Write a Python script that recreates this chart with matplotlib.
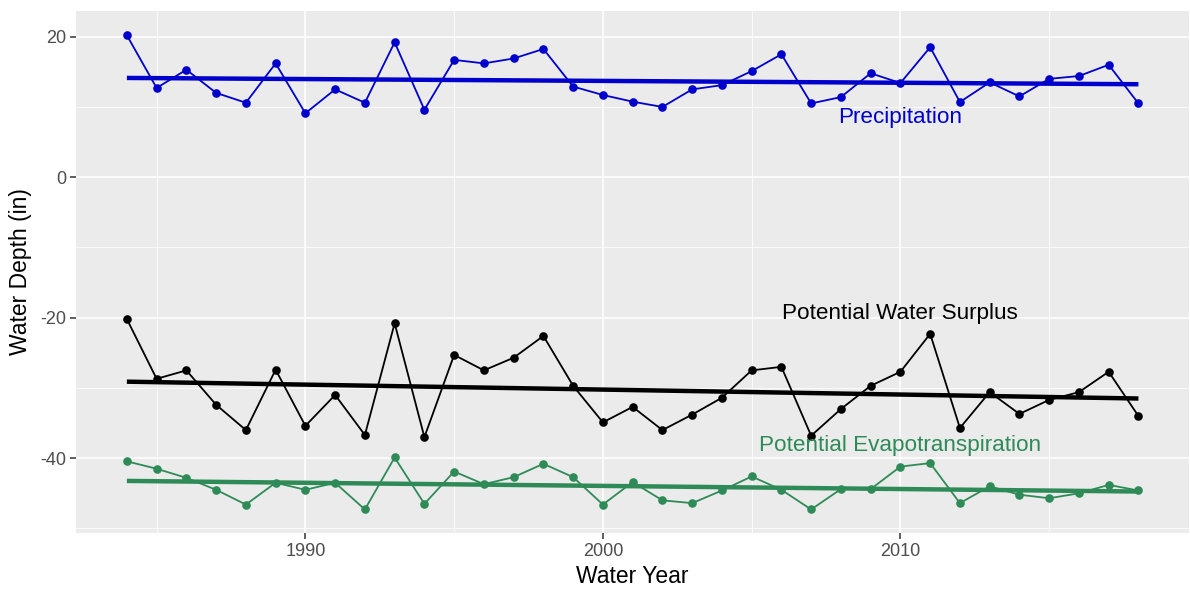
import numpy as np
import matplotlib
matplotlib.use("Agg")
import matplotlib.pyplot as plt

plt.rcParams['font.family'] = ['Liberation Sans', 'DejaVu Sans']
plt.rcParams['axes.unicode_minus'] = False

years = list(range(1984, 2019))
precipitation = [20.2, 12.7, 15.3, 12.0, 10.6, 16.2, 9.1, 12.5, 10.6, 19.2, 9.6, 16.7,
                 16.2, 16.9, 18.25, 12.9, 11.7, 10.75, 10.0, 12.5, 13.1, 15.1, 17.5, 10.5,
                 11.4, 14.8, 13.4, 18.5, 10.7, 13.5, 11.5, 14.0, 14.4, 16.0, 10.5]
surplus = [-20.2, -28.7, -27.5, -32.4, -36.0, -27.4, -35.4, -31.0, -36.7, -20.8, -37.0, -25.3,
           -27.5, -25.7, -22.6, -29.7, -34.9, -32.7, -36.0, -33.8, -31.4, -27.5, -27.0, -36.8,
           -33.0, -29.7, -27.7, -22.3, -35.7, -30.6, -33.7, -31.7, -30.6, -27.7, -34.0]
pet = [-40.45, -41.5, -42.8, -44.5, -46.6, -43.5, -44.5, -43.5, -47.3, -39.9, -46.5, -41.9,
       -43.7, -42.7, -40.8, -42.7, -46.6, -43.4, -46.0, -46.4, -44.6, -42.6, -44.5, -47.3,
       -44.4, -44.4, -41.2, -40.7, -46.4, -44.0, -45.2, -45.7, -45.0, -43.8, -44.6]

series_names = ["Precipitation", "Potential Water Surplus", "Potential Evapotranspiration"]
series_colors = ["#0000CD", "#000000", "#2E8B57"]
label_x = [2010, 2010, 2010]
label_y = [7.7, -20.2, -39.0]

W, H = 1190, 589
fig = plt.figure(figsize=(W / 100, H / 100), dpi=100)
left, right, top, bottom = 76.3, 1189, 10.7, 533
ax = fig.add_axes([left / W, (H - bottom) / H, (right - left) / W, (bottom - top) / H])
ax.set_facecolor("#EBEBEB")
for s in ax.spines.values():
    s.set_visible(False)

x = np.array(years, dtype=float)
for vals, col in zip([precipitation, surplus, pet], series_colors):
    v = np.array(vals)
    ax.plot(x, v, color=col, lw=1.3, zorder=3)
    coef = np.polyfit(x, v, 1)
    ax.plot([x[0], x[-1]], np.polyval(coef, [x[0], x[-1]]), color=col, lw=3.2, zorder=4,
            solid_capstyle='butt')
    ax.plot(x, v, 'o', color=col, ms=6.2, mec='none', zorder=5)

for name, col, lx, ly in zip(series_names, series_colors, label_x, label_y):
    ax.text(lx, ly, name, color=col, fontsize=16.2, ha='center', va='baseline', zorder=6)

xmin, xmax = 1984 - 0.05 * 34, 2018 + 0.05 * 34
ymin, ymax = -50.65, 23.7
ax.set_xlim(xmin, xmax)
ax.set_ylim(ymin, ymax)

ax.set_xticks([1990, 2000, 2010])
ax.set_xticks([1985, 1995, 2005, 2015], minor=True)
ax.set_yticks([-40, -20, 0, 20])
ax.set_yticks([-50, -30, -10, 10], minor=True)
ax.grid(which='major', color='white', lw=1.1, zorder=0)
ax.grid(which='minor', color='white', lw=0.55, zorder=0)
ax.set_axisbelow(True)

ax.tick_params(which='major', length=4, width=1.1, color='#333333', labelsize=13,
               labelcolor='#4D4D4D', pad=3)
ax.tick_params(which='minor', length=0)

ax.set_xlabel("Water Year", fontsize=16.5, color='black', labelpad=4)
ax.set_ylabel("Water Depth (in)", fontsize=16.5, color='black', labelpad=6)

fig.savefig("out.png", dpi=100)
